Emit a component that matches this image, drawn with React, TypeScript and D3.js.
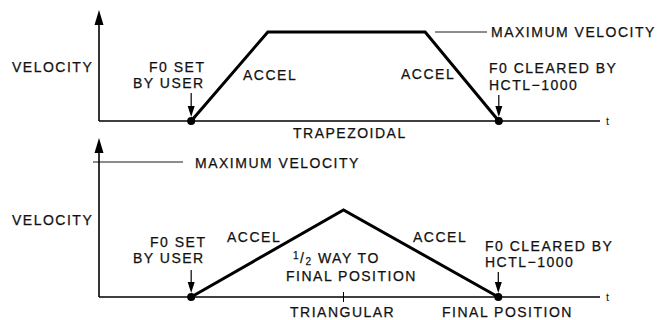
import React from "react";
import * as d3 from "d3";

const W = 657;
const H = 320;

// time in arbitrary units (0..100), velocity normalised (1 = maximum velocity)
const timeDomain = [0, 100];
const trapTime = [18.4, 33.7, 65.1, 79.8];
const trapVel = [0, 1, 1, 0];
const triTime = [18.4, 48.8, 79.7];
const triVel = [0, 0.645, 0];
const halfWayTime = 48.8;

const FONT = "'Liberation Sans', Arial, Helvetica, sans-serif";
const FS = 14;
const LS = 1.5;

const x = d3.scaleLinear().domain(timeDomain).range([99, 600]);
const yTop = d3.scaleLinear().domain([0, 1]).range([121, 32]);
const yBot = d3.scaleLinear().domain([0, 1]).range([297, 162]);

const Label = ({ x, y, children }: any) => (
  <text x={x} y={y} fontFamily={FONT} fontSize={FS} letterSpacing={LS} fill="#111" stroke="#111" strokeWidth={0.25}>
    {children}
  </text>
);

const AxisArrow = ({ x0, yTip }: any) => (
  <path d={`M${x0},${yTip} L${x0 - 4.5},${yTip + 15} L${x0 + 4.5},${yTip + 15} Z`} fill="#000" />
);

const DownArrow = ({ x0, y0, y1 }: any) => (
  <g>
    <line x1={x0} x2={x0} y1={y0} y2={y1 - 8} stroke="#000" strokeWidth={1.2} />
    <path d={`M${x0},${y1} L${x0 - 3.5},${y1 - 11} L${x0 + 3.5},${y1 - 11} Z`} fill="#000" />
  </g>
);

export default function App() {
  const trapLine = d3
    .line<number>()
    .x((d) => x(trapTime[d]))
    .y((d) => yTop(trapVel[d]))(trapTime.map((_, i) => i)) as string;
  const triLine = d3
    .line<number>()
    .x((d) => x(triTime[d]))
    .y((d) => yBot(triVel[d]))(triTime.map((_, i) => i)) as string;

  const x0 = x(timeDomain[0]);
  const x1 = x(timeDomain[1]);
  const tStart = x(trapTime[0]);
  const tEnd = x(trapTime[3]);
  const rStart = x(triTime[0]);
  const rEnd = x(triTime[2]);

  return (
    <svg width={W} height={H} style={{ position: "absolute", left: 0, top: 0, background: "#fff" }}>
      <rect width={W} height={H} fill="#fff" />
      {/* ---------- TOP: trapezoidal ---------- */}
      <line x1={x0} x2={x0} y1={yTop(0)} y2={22} stroke="#000" strokeWidth={1.6} />
      <AxisArrow x0={x0} yTip={10} />
      <line x1={x0} x2={x1} y1={yTop(0)} y2={yTop(0)} stroke="#000" strokeWidth={1.6} />
      <text x={606} y={125} fontFamily={FONT} fontSize={11} fill="#111">t</text>
      <path d={trapLine} fill="none" stroke="#000" strokeWidth={3} strokeLinejoin="miter" />
      <circle cx={tStart} cy={yTop(0)} r={4} fill="#000" />
      <circle cx={tEnd} cy={yTop(0)} r={4} fill="#000" />
      <line x1={435} x2={487} y1={yTop(1)} y2={yTop(1)} stroke="#000" strokeWidth={0.9} />
      <Label x={491} y={37}>MAXIMUM VELOCITY</Label>
      <Label x={12} y={72}>VELOCITY</Label>
      <Label x={149} y={72}>F0 SET</Label>
      <Label x={133} y={88}>BY USER</Label>
      <DownArrow x0={tStart} y0={93} y1={117} />
      <Label x={243} y={80}>ACCEL</Label>
      <Label x={401} y={79}>ACCEL</Label>
      <Label x={489} y={73}>F0 CLEARED BY</Label>
      <Label x={489} y={90}>HCTL−1000</Label>
      <DownArrow x0={tEnd} y0={95} y1={117} />
      <Label x={293} y={138}>TRAPEZOIDAL</Label>

      {/* ---------- BOTTOM: triangular ---------- */}
      <line x1={x0} x2={x0} y1={yBot(0)} y2={150} stroke="#000" strokeWidth={1.6} />
      <AxisArrow x0={x0} yTip={138} />
      <line x1={x0} x2={x1} y1={yBot(0)} y2={yBot(0)} stroke="#000" strokeWidth={1.6} />
      <text x={606} y={301} fontFamily={FONT} fontSize={11} fill="#111">t</text>
      <line x1={93} x2={183} y1={yBot(1)} y2={yBot(1)} stroke="#000" strokeWidth={0.9} />
      <Label x={195} y={168}>MAXIMUM VELOCITY</Label>
      <path d={triLine} fill="none" stroke="#000" strokeWidth={3} strokeLinejoin="miter" />
      <line x1={x(halfWayTime)} x2={x(halfWayTime)} y1={yBot(0) - 5} y2={yBot(0) + 5} stroke="#000" strokeWidth={1} />
      <circle cx={rStart} cy={yBot(0)} r={4} fill="#000" />
      <circle cx={rEnd} cy={yBot(0)} r={4} fill="#000" />
      <Label x={12} y={225}>VELOCITY</Label>
      <Label x={150} y={247}>F0 SET</Label>
      <Label x={133} y={263}>BY USER</Label>
      <DownArrow x0={rStart} y0={270} y1={293} />
      <Label x={227} y={242}>ACCEL</Label>
      <text x={293} y={263} fontFamily={FONT} fontSize={FS} letterSpacing={LS} fill="#111" stroke="#111" strokeWidth={0.25}>
        <tspan fontSize={10} dy={-4}>1</tspan>
        <tspan dy={4}>/</tspan>
        <tspan fontSize={10} dy={2}>2</tspan>
        <tspan dy={-2}> WAY TO</tspan>
      </text>
      <Label x={286} y={281}>FINAL POSITION</Label>
      <Label x={413} y={242}>ACCEL</Label>
      <Label x={485} y={251}>F0 CLEARED BY</Label>
      <Label x={485} y={267}>HCTL−1000</Label>
      <DownArrow x0={rEnd} y0={272} y1={293} />
      <Label x={290} y={317}>TRIANGULAR</Label>
      <Label x={442} y={317}>FINAL POSITION</Label>
    </svg>
  );
}
